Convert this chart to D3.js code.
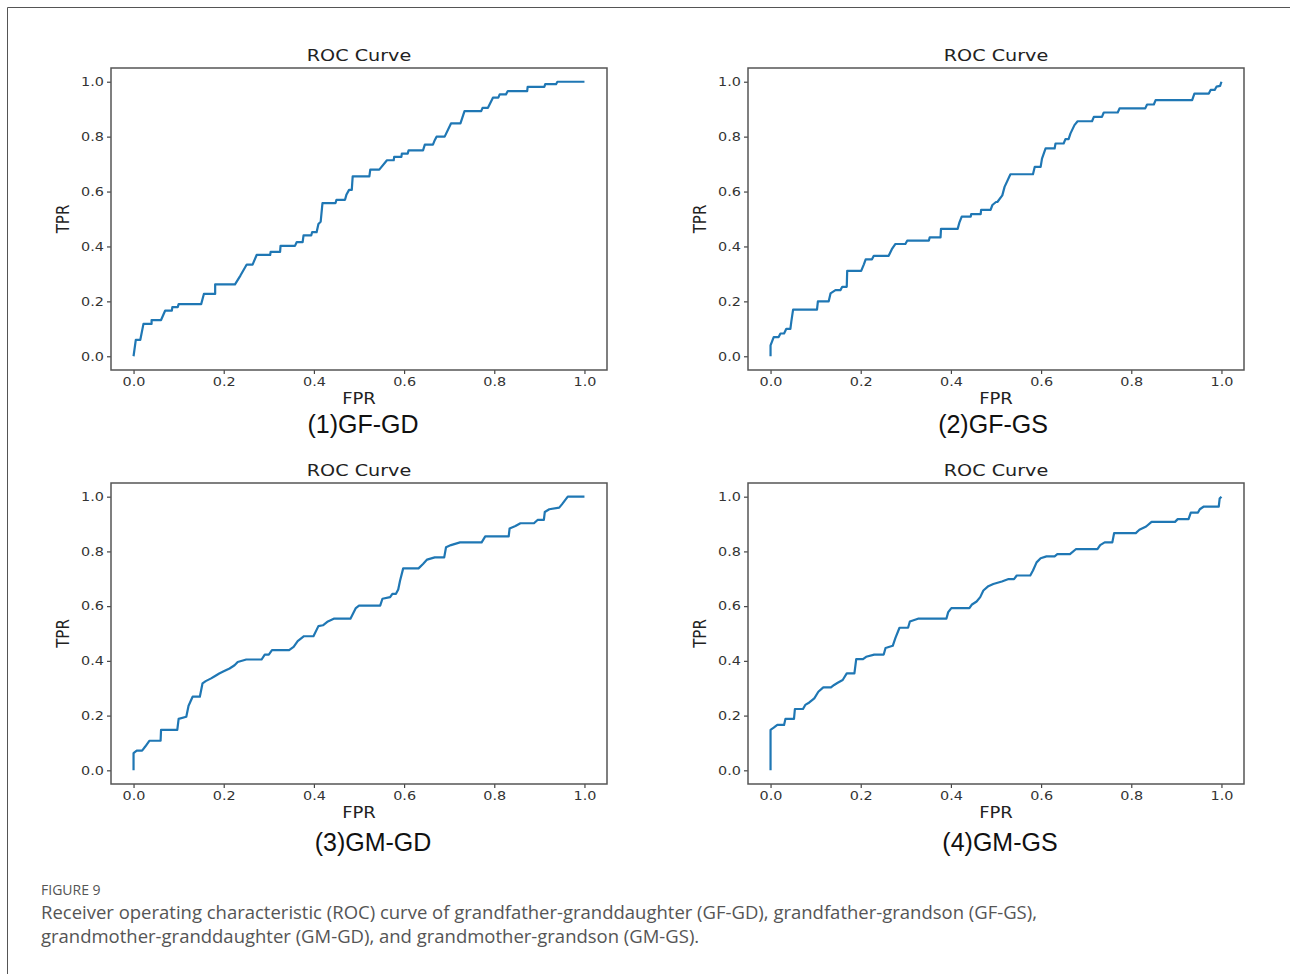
<!DOCTYPE html>
<html>
<head>
<meta charset="utf-8">
<script src="https://cdn.jsdelivr.net/npm/d3@7"></script>
<style>
  body { margin: 0; background: #fff; }
  svg { display: block; }
</style>
</head>
<body>
<div id="fig"></div>
<script>
// ROC points, [FPR, TPR]
var gfgdRoc = [[0,0],[0.005,0.06],[0.015,0.06],[0.022,0.118],[0.04,0.118],[0.04,0.132],[0.061,0.132],[0.07,0.166],[0.085,0.166],[0.086,0.179],[0.098,0.179],[0.1,0.19],[0.15,0.19],[0.156,0.227],[0.181,0.227],[0.181,0.262],[0.225,0.262],[0.237,0.294],[0.251,0.334],[0.264,0.334],[0.273,0.369],[0.303,0.369],[0.304,0.38],[0.325,0.38],[0.326,0.402],[0.358,0.402],[0.362,0.416],[0.375,0.416],[0.377,0.44],[0.394,0.44],[0.396,0.452],[0.406,0.452],[0.41,0.482],[0.415,0.49],[0.419,0.558],[0.448,0.558],[0.45,0.57],[0.469,0.57],[0.472,0.588],[0.478,0.606],[0.484,0.606],[0.486,0.655],[0.523,0.655],[0.525,0.68],[0.545,0.68],[0.562,0.714],[0.577,0.714],[0.578,0.726],[0.594,0.726],[0.595,0.738],[0.608,0.738],[0.61,0.75],[0.642,0.75],[0.646,0.771],[0.664,0.771],[0.668,0.787],[0.672,0.8],[0.69,0.8],[0.704,0.848],[0.725,0.848],[0.734,0.893],[0.771,0.893],[0.774,0.905],[0.786,0.905],[0.797,0.942],[0.809,0.942],[0.812,0.954],[0.826,0.954],[0.83,0.966],[0.873,0.966],[0.874,0.981],[0.911,0.981],[0.913,0.991],[0.937,0.991],[0.94,1],[1,1]];

var gfgsRoc = [[0,0],[0,0.04],[0.007,0.07],[0.018,0.07],[0.022,0.083],[0.03,0.083],[0.035,0.1],[0.044,0.1],[0.046,0.125],[0.05,0.17],[0.103,0.17],[0.105,0.2],[0.129,0.2],[0.133,0.229],[0.144,0.241],[0.155,0.241],[0.159,0.253],[0.169,0.253],[0.17,0.311],[0.201,0.311],[0.207,0.335],[0.211,0.353],[0.225,0.353],[0.229,0.366],[0.262,0.366],[0.269,0.39],[0.277,0.409],[0.299,0.409],[0.303,0.421],[0.351,0.421],[0.353,0.433],[0.377,0.433],[0.378,0.464],[0.415,0.464],[0.419,0.488],[0.424,0.509],[0.444,0.509],[0.445,0.518],[0.466,0.518],[0.467,0.533],[0.488,0.533],[0.492,0.551],[0.5,0.562],[0.503,0.562],[0.514,0.586],[0.519,0.617],[0.532,0.663],[0.582,0.663],[0.586,0.69],[0.599,0.69],[0.602,0.72],[0.61,0.757],[0.63,0.757],[0.632,0.775],[0.65,0.775],[0.654,0.791],[0.661,0.791],[0.665,0.811],[0.674,0.842],[0.681,0.856],[0.713,0.856],[0.717,0.872],[0.735,0.872],[0.739,0.888],[0.77,0.888],[0.774,0.903],[0.831,0.903],[0.835,0.917],[0.85,0.917],[0.854,0.933],[0.935,0.933],[0.94,0.957],[0.972,0.957],[0.976,0.97],[0.985,0.97],[0.989,0.982],[0.997,0.985],[1,1]];

var gmgdRoc = [[0,0],[0,0.063],[0.007,0.072],[0.019,0.072],[0.026,0.087],[0.035,0.108],[0.06,0.108],[0.061,0.148],[0.097,0.148],[0.1,0.188],[0.117,0.196],[0.122,0.236],[0.131,0.269],[0.147,0.269],[0.153,0.318],[0.16,0.326],[0.172,0.336],[0.18,0.344],[0.19,0.354],[0.2,0.362],[0.213,0.372],[0.224,0.384],[0.231,0.396],[0.25,0.405],[0.284,0.405],[0.291,0.423],[0.3,0.423],[0.307,0.439],[0.345,0.439],[0.355,0.451],[0.364,0.472],[0.378,0.49],[0.399,0.49],[0.41,0.527],[0.42,0.53],[0.431,0.544],[0.444,0.554],[0.481,0.554],[0.493,0.593],[0.5,0.602],[0.547,0.602],[0.552,0.627],[0.569,0.633],[0.574,0.645],[0.582,0.645],[0.587,0.661],[0.591,0.693],[0.598,0.738],[0.632,0.738],[0.642,0.754],[0.651,0.77],[0.668,0.778],[0.689,0.778],[0.693,0.815],[0.704,0.823],[0.724,0.833],[0.772,0.833],[0.78,0.855],[0.832,0.855],[0.834,0.884],[0.847,0.893],[0.858,0.903],[0.888,0.903],[0.896,0.915],[0.91,0.915],[0.912,0.944],[0.922,0.954],[0.944,0.96],[0.95,0.972],[0.963,1],[1,1]];

var gmgsRoc = [[0,0],[0,0.148],[0.007,0.156],[0.015,0.166],[0.03,0.166],[0.033,0.188],[0.052,0.188],[0.054,0.224],[0.072,0.224],[0.077,0.239],[0.086,0.248],[0.097,0.263],[0.106,0.287],[0.117,0.303],[0.134,0.303],[0.141,0.312],[0.149,0.32],[0.16,0.33],[0.169,0.354],[0.186,0.354],[0.19,0.406],[0.205,0.406],[0.212,0.415],[0.23,0.423],[0.251,0.423],[0.255,0.447],[0.271,0.455],[0.277,0.484],[0.286,0.521],[0.305,0.521],[0.309,0.544],[0.327,0.554],[0.39,0.554],[0.394,0.578],[0.401,0.593],[0.441,0.593],[0.446,0.605],[0.457,0.617],[0.465,0.633],[0.472,0.657],[0.483,0.673],[0.494,0.681],[0.513,0.69],[0.528,0.699],[0.54,0.699],[0.546,0.712],[0.576,0.712],[0.582,0.73],[0.59,0.76],[0.599,0.775],[0.612,0.782],[0.63,0.782],[0.636,0.79],[0.664,0.79],[0.677,0.808],[0.725,0.808],[0.731,0.823],[0.741,0.833],[0.758,0.833],[0.762,0.867],[0.81,0.867],[0.818,0.879],[0.833,0.891],[0.845,0.908],[0.897,0.908],[0.903,0.918],[0.927,0.918],[0.932,0.942],[0.948,0.942],[0.952,0.954],[0.961,0.964],[0.994,0.964],[0.996,0.993],[1,1]];

var panelLabels = ["(1)GF-GD", "(2)GF-GS", "(3)GM-GD", "(4)GM-GS"];
var tickValues = [0, 0.2, 0.4, 0.6, 0.8, 1.0];

var captionHead = "FIGURE 9";
var captionLines = [
    "Receiver operating characteristic (ROC) curve of grandfather-granddaughter (GF-GD), grandfather-grandson (GF-GS),",
    "grandmother-granddaughter (GM-GD), and grandmother-grandson (GM-GS)."
];

var W = 1290, H = 974;
var stretch = 1.2; // the plots in the figure are stretched sideways

var svg = d3.select("#fig").append("svg")
    .attr("width", W)
    .attr("height", H);

// page frame
svg.append("path")
    .attr("d", "M7.5," + H + "V7.5H" + W)
    .attr("fill", "none")
    .attr("stroke", "#555")
    .attr("stroke-width", 1);

var panels = [
    { data: gfgdRoc, label: panelLabels[0], left: 111, top: 68, w: 496, h: 302, lx: 363, ly: 433 },
    { data: gfgsRoc, label: panelLabels[1], left: 748, top: 68, w: 496, h: 302, lx: 993, ly: 433 },
    { data: gmgdRoc, label: panelLabels[2], left: 111, top: 483, w: 496, h: 301, lx: 373, ly: 851 },
    { data: gmgsRoc, label: panelLabels[3], left: 748, top: 483, w: 496, h: 301, lx: 1000, ly: 851 }
];

var mplFont = "'DejaVu Sans', sans-serif";

panels.forEach(function (p) {
    var x = d3.scaleLinear().domain([-0.05, 1.05]).range([p.left, p.left + p.w]);
    var y = d3.scaleLinear().domain([-0.05, 1.05]).range([p.top + p.h, p.top]);

    // title
    svg.append("text")
        .attr("transform", "translate(" + (p.left + p.w / 2) + "," + (p.top - 7) + ") scale(" + stretch + ",1)")
        .attr("text-anchor", "middle")
        .style("font-family", mplFont)
        .style("font-size", "16px")
        .attr("fill", "#222")
        .text("ROC Curve");

    // curve
    var line = d3.line()
        .x(function (d) { return x(d[0]); })
        .y(function (d) { return y(d[1]); });

    svg.append("path")
        .datum(p.data)
        .attr("d", line)
        .attr("fill", "none")
        .attr("stroke", "#1f77b4")
        .attr("stroke-width", 2.2)
        .attr("stroke-linejoin", "round");

    // axes
    var gx = svg.append("g")
        .attr("transform", "translate(0," + (p.top + p.h) + ")")
        .call(d3.axisBottom(x).tickValues(tickValues).tickFormat(d3.format(".1f")).tickSizeInner(4).tickSizeOuter(0).tickPadding(3));
    var gy = svg.append("g")
        .attr("transform", "translate(" + p.left + ",0)")
        .call(d3.axisLeft(y).tickValues(tickValues).tickFormat(d3.format(".1f")).tickSizeInner(4).tickSizeOuter(0).tickPadding(3));

    [gx, gy].forEach(function (g) {
        g.select(".domain").remove();
        g.selectAll(".tick line").attr("stroke", "#444").attr("stroke-width", 1.2);
        g.selectAll(".tick text")
            .attr("fill", "#333")
            .style("font-family", mplFont)
            .style("font-size", "12px");
    });
    gx.selectAll(".tick text").attr("transform", "scale(" + stretch + ",1)");
    gy.selectAll(".tick text").attr("x", -7 / stretch).attr("transform", "scale(" + stretch + ",1)");

    // frame of the axes
    svg.append("rect")
        .attr("x", p.left)
        .attr("y", p.top)
        .attr("width", p.w)
        .attr("height", p.h)
        .attr("fill", "none")
        .attr("stroke", "#555")
        .attr("stroke-width", 1.5);

    // axis labels
    svg.append("text")
        .attr("transform", "translate(" + (p.left + p.w / 2) + "," + (p.top + p.h + 34) + ") scale(" + stretch + ",1)")
        .attr("text-anchor", "middle")
        .style("font-family", mplFont)
        .style("font-size", "15px")
        .attr("fill", "#222")
        .text("FPR");

    svg.append("text")
        .attr("transform", "translate(" + (p.left - 42) + "," + (p.top + p.h / 2) + ") scale(" + stretch + ",1) rotate(-90)")
        .attr("text-anchor", "middle")
        .style("font-family", mplFont)
        .style("font-size", "15px")
        .attr("fill", "#222")
        .text("TPR");

    // sub caption
    svg.append("text")
        .attr("x", p.lx)
        .attr("y", p.ly)
        .attr("text-anchor", "middle")
        .style("font-family", "'Liberation Sans', Arial, sans-serif")
        .style("font-size", "25px")
        .attr("fill", "#111")
        .text(p.label);
});

// figure caption
svg.append("text")
    .attr("x", 41)
    .attr("y", 895)
    .style("font-family", "'Open Sans', sans-serif")
    .style("font-size", "14px")
    .attr("fill", "#555")
    .text(captionHead);

var capLines = svg.selectAll(".capline")
    .data(captionLines)
    .enter()
    .append("text")
    .attr("class", "capline")
    .attr("x", 41)
    .attr("y", function (d, i) { return 919 + i * 24; })
    .style("font-family", "'Open Sans', sans-serif")
    .style("font-size", "16px")
    .attr("fill", "#555")
    .text(function (d) { return d; });

// fit the first line to its width in the figure
var len = capLines.node().getComputedTextLength();
capLines.style("font-size", (16 * 996 / len).toFixed(2) + "px");
</script>
</body>
</html>
